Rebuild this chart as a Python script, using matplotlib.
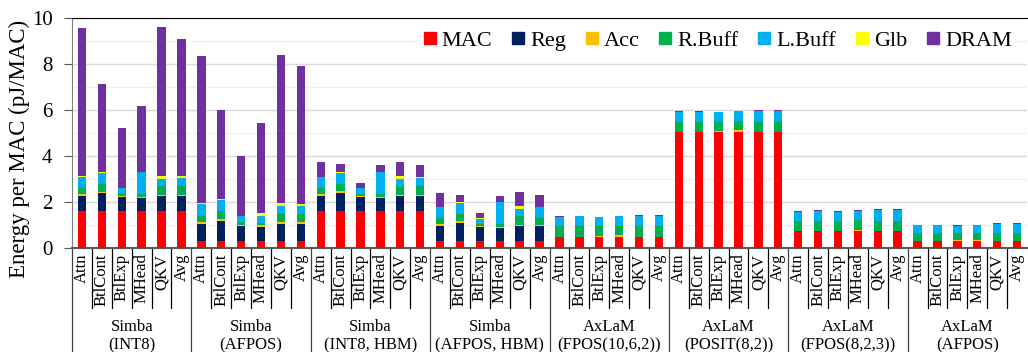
import matplotlib
matplotlib.use("Agg")
import matplotlib.pyplot as plt
from matplotlib.lines import Line2D
import numpy as np

plt.rcParams['font.family'] = ['Liberation Serif', 'DejaVu Serif']

# workloads inside each group, and the groups (platform / number format)
workloads = ['Attn', 'BtlCont', 'BtlExp', 'MHead', 'QKV', 'Avg']
groups = ['Simba\n(INT8)', 'Simba\n(AFPOS)', 'Simba\n(INT8, HBM)', 'Simba\n(AFPOS, HBM)',
          'AxLaM\n(FPOS(10,6,2))', 'AxLaM\n(POSIT(8,2))', 'AxLaM\n(FPOS(8,2,3))', 'AxLaM\n(AFPOS)']

components = ['MAC', 'Reg', 'Acc', 'R.Buff', 'L.Buff', 'Glb', 'DRAM']
colors = ['#FF0000', '#002060', '#FFC000', '#00B050', '#00B0F0', '#FFFF00', '#7030A0']

# energy per MAC (pJ/MAC), 6 bars per group, 8 groups
mac = [1.59, 1.59, 1.59, 1.59, 1.59, 1.59,
       0.30, 0.30, 0.30, 0.30, 0.30, 0.30,
       1.59, 1.59, 1.59, 1.59, 1.59, 1.59,
       0.29, 0.29, 0.29, 0.29, 0.29, 0.29,
       0.49, 0.49, 0.49, 0.49, 0.46, 0.49,
       5.04, 5.04, 5.04, 5.04, 5.04, 5.04,
       0.72, 0.72, 0.72, 0.72, 0.72, 0.72,
       0.29, 0.29, 0.29, 0.29, 0.29, 0.29]
reg = [0.66, 0.79, 0.61, 0.57, 0.66, 0.66,
       0.74, 0.89, 0.64, 0.60, 0.74, 0.74,
       0.66, 0.80, 0.61, 0.57, 0.66, 0.66,
       0.65, 0.80, 0.61, 0.57, 0.67, 0.67,
       0, 0, 0, 0, 0, 0,
       0, 0, 0, 0, 0, 0,
       0, 0, 0, 0, 0, 0,
       0, 0, 0, 0, 0, 0]
acc = [0.10, 0.07, 0.08, 0.07, 0.07, 0.07,
       0.09, 0.09, 0.07, 0.10, 0.09, 0.09,
       0.10, 0.07, 0.08, 0.07, 0.07, 0.07,
       0.09, 0.07, 0.06, 0.07, 0.05, 0.05,
       0.01, 0.01, 0.05, 0.06, 0.01, 0.01,
       0.01, 0.01, 0.06, 0.08, 0.01, 0.01,
       0.01, 0.01, 0.03, 0.08, 0.01, 0.01,
       0.01, 0.01, 0.04, 0.07, 0.01, 0.01]
rbuff = [0.25, 0.35, 0.07, 0.10, 0.39, 0.36,
         0.28, 0.34, 0.11, 0.09, 0.39, 0.35,
         0.24, 0.34, 0.07, 0.10, 0.39, 0.36,
         0.26, 0.32, 0.07, 0.10, 0.40, 0.28,
         0.44, 0.44, 0.40, 0.42, 0.47, 0.44,
         0.44, 0.44, 0.40, 0.40, 0.44, 0.44,
         0.43, 0.45, 0.42, 0.40, 0.44, 0.44,
         0.35, 0.36, 0.32, 0.30, 0.37, 0.37]
lbuff = [0.48, 0.48, 0.24, 0.97, 0.29, 0.35,
         0.50, 0.48, 0.27, 0.29, 0.31, 0.33,
         0.48, 0.48, 0.24, 0.97, 0.29, 0.35,
         0.48, 0.49, 0.25, 0.97, 0.29, 0.48,
         0.42, 0.45, 0.39, 0.42, 0.47, 0.45,
         0.42, 0.42, 0.40, 0.42, 0.48, 0.45,
         0.42, 0.43, 0.40, 0.41, 0.48, 0.48,
         0.34, 0.34, 0.32, 0.34, 0.37, 0.37]
glb = [0.03, 0.02, 0.01, 0.01, 0.14, 0.09,
       0.03, 0.02, 0.01, 0.16, 0.14, 0.10,
       0.03, 0.02, 0.01, 0.01, 0.14, 0.04,
       0.02, 0.02, 0.01, 0.01, 0.13, 0.03,
       0, 0, 0, 0, 0, 0,
       0, 0, 0, 0, 0, 0,
       0, 0, 0, 0, 0, 0,
       0, 0, 0, 0, 0, 0]
dram = [6.45, 3.83, 2.60, 2.87, 6.45, 5.95,
        6.42, 3.86, 2.60, 3.91, 6.44, 6.00,
        0.63, 0.34, 0.24, 0.28, 0.60, 0.55,
        0.60, 0.33, 0.23, 0.25, 0.60, 0.52,
        0.03, 0.02, 0.02, 0.02, 0.04, 0.04,
        0.05, 0.05, 0.03, 0.02, 0.05, 0.06,
        0.04, 0.03, 0.03, 0.03, 0.05, 0.04,
        0.02, 0.02, 0.02, 0.02, 0.03, 0.03]

series = [mac, reg, acc, rbuff, lbuff, glb, dram]

n = len(groups) * len(workloads)
x = np.arange(n)

fig = plt.figure(figsize=(10.28, 3.52), dpi=100)
ax = fig.add_axes([72 / 1028, 1 - 248 / 352, 955 / 1028, 230 / 352])

bottom = np.zeros(n)
for vals, c in zip(series, colors):
    ax.bar(x, vals, 0.42, bottom=bottom, color=c, linewidth=0, zorder=3)
    bottom += np.array(vals)

ax.set_xlim(-0.5, n - 0.5)
ax.set_ylim(0, 10)
ax.set_yticks(np.arange(0, 11, 2))
ax.set_yticks(np.arange(1, 10, 2), minor=True)
ax.grid(axis='y', which='major', color='#d9d9d9', lw=1, zorder=0)
ax.grid(axis='y', which='minor', color='#f0f0f0', lw=1, zorder=0)
ax.tick_params(axis='y', which='major', direction='out', length=6, color='#595959',
               labelsize=15, pad=8)
ax.tick_params(axis='y', which='minor', length=0)
ax.set_ylabel('Energy per MAC (pJ/MAC)', fontsize=16.5)
ax.yaxis.set_label_coords(-0.044, 0.43)

ax.set_xticks(x)
ax.set_xticklabels(workloads * len(groups), rotation=90, fontsize=12)
ax.tick_params(axis='x', length=0, pad=4)

ax.spines['right'].set_visible(False)
ax.spines['top'].set_color('black')
ax.spines['left'].set_color('#7f7f7f')
ax.spines['bottom'].set_color('#595959')
ax.spines['bottom'].set_linewidth(1.5)

# separators under the axis
trans = ax.get_xaxis_transform()
y_in = -(308 - 248) / 230
y_out = -(352 - 248) / 230
for i in range(n - 1):
    if (i + 1) % len(workloads) == 0:
        continue
    ax.plot([i + 0.5, i + 0.5], [0, y_in], transform=trans, color='black', lw=0.9,
            clip_on=False)
for g in range(len(groups)):
    xs = g * len(workloads) - 0.5
    ax.plot([xs, xs], [0, y_out], transform=trans, color='#404040', lw=0.9, clip_on=False)
    ax.text(g * len(workloads) + 2.5, -(336 - 248) / 230, groups[g], transform=trans,
            ha='center', va='center', fontsize=12, linespacing=1.15)

handles = [Line2D([], [], marker='s', ls='', color=c, markersize=8) for c in colors]
leg = ax.legend(handles, components, ncol=7, loc='center right',
                bbox_to_anchor=(0.99, 0.9), fontsize=16, frameon=True,
                handletextpad=0.3, columnspacing=0.9, borderpad=0.25,
                borderaxespad=0, handlelength=0.5, fancybox=False)
leg.get_frame().set_facecolor('white')
leg.get_frame().set_edgecolor('none')
leg.get_frame().set_alpha(1)
leg.set_zorder(5)

fig.savefig('out.png', dpi=100)
